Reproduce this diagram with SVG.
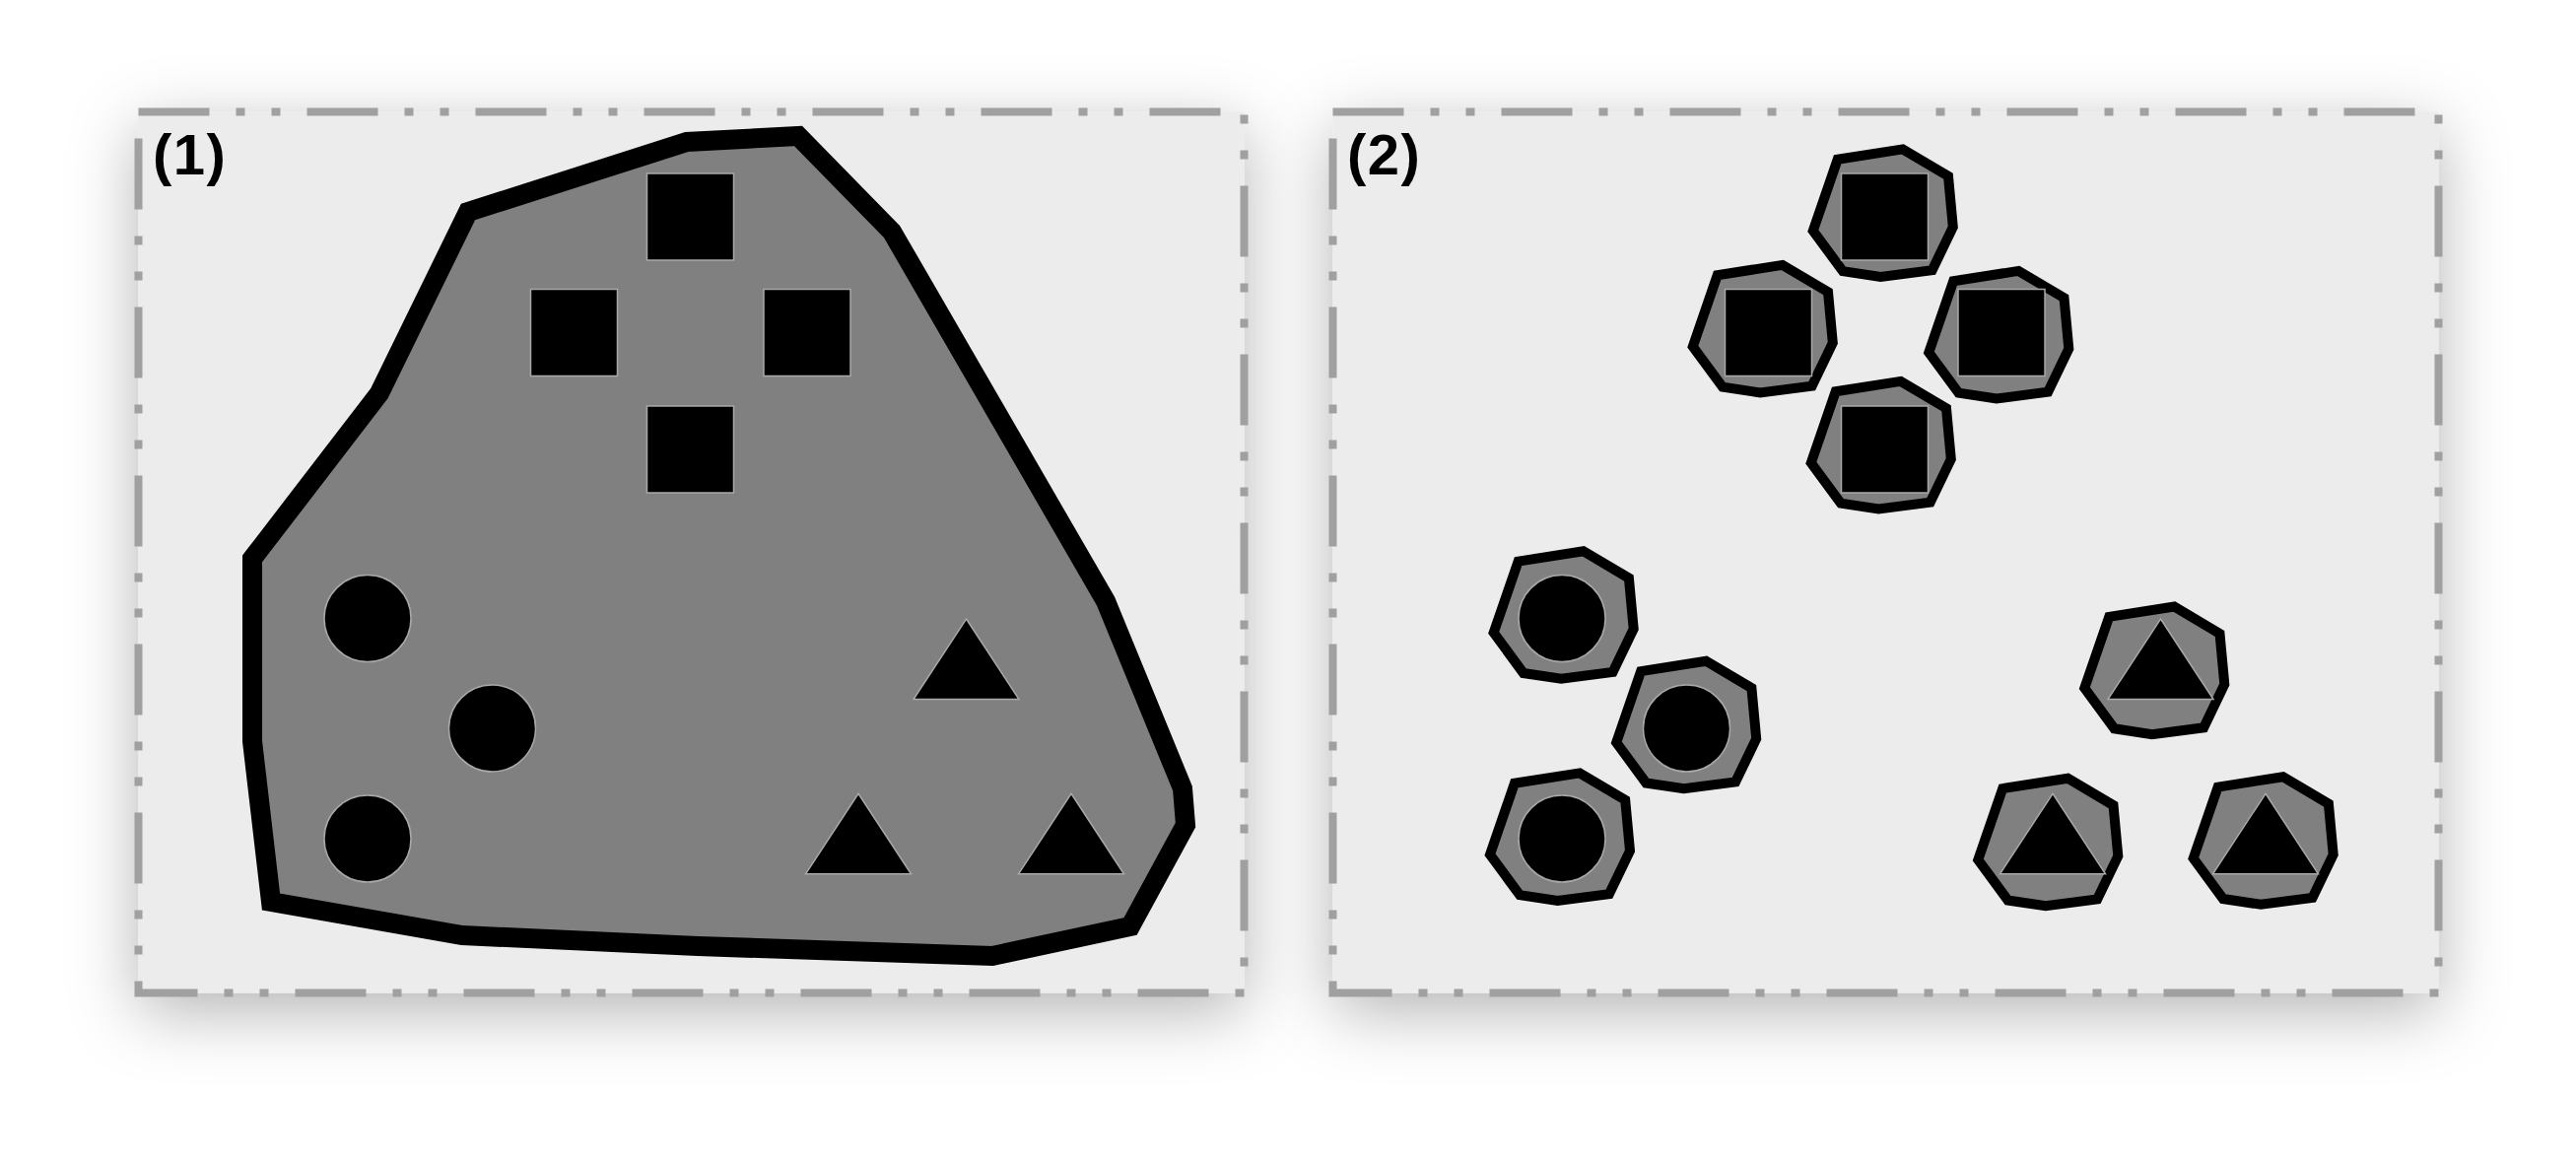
<svg xmlns="http://www.w3.org/2000/svg" xmlns:xlink="http://www.w3.org/1999/xlink" width="2614" height="1175" viewBox="0 0 2614 1175">
  <style>
    .panel { fill: #ececec; stroke: #a0a0a0; stroke-width: 8; stroke-dasharray: 72 27 9 27 9 27; }
    .label { font-family: "Liberation Sans", Arial, sans-serif; font-weight: bold; font-size: 58px; letter-spacing: 1.5px; fill: #000; }
    .hull { fill: #808080; stroke: #000; stroke-width: 20; stroke-linejoin: miter; stroke-miterlimit: 10; }
    .oct { fill: #808080; stroke: #000; stroke-width: 10; stroke-linejoin: miter; stroke-miterlimit: 10; }
    .item { fill: #000; stroke: #a8a8a8; stroke-width: 1.5; }
  </style>
  <defs>
    <filter id="shadow" x="-20%" y="-25%" width="140%" height="160%">
      <feDropShadow dx="0" dy="18" stdDeviation="34" flood-color="#000" flood-opacity="0.3"/>
    </filter>
    <rect id="sq" x="-44" y="-44" width="88" height="88"/>
    <circle id="ci" cx="0" cy="0" r="44"/>
    <path id="tri" d="M0,-40.75 L53.5,40.75 L-53.5,40.75 Z"/>
    <polygon id="octa" points="-46.1,-54.4 20,-64.8 66.2,-37.4 71,14.1 49.9,58 -2.5,64.8 -40.8,59 -71,17.9"/>
  </defs>
  <rect width="2614" height="1175" fill="#ffffff"/>

  <g id="panel-1">
    <rect x="140.5" y="113.5" width="1122" height="894" fill="#ececec" filter="url(#shadow)"/>
    <rect class="panel" x="140.5" y="113.5" width="1122" height="894"/>
    <text class="label" x="155" y="177">(1)</text>
  </g>
  <g id="panel-2">
    <rect x="1352.5" y="113.5" width="1122" height="894" fill="#ececec" filter="url(#shadow)"/>
    <rect class="panel" x="1352.5" y="113.5" width="1122" height="894"/>
    <text class="label" x="1367" y="177">(2)</text>
  </g>

  <g id="hull-1">
    <polygon class="hull" points="256,567 256,752 275,915 469,949 708,960 1007,970 1147,940 1203,837 1200,800 1122,610 905,235 810,138 697,144 475,215 385,399"/>
  </g>

  <g id="panel-1-items">
    <use id="p1-square-top" class="item" href="#sq" xlink:href="#sq" transform="translate(700.5,220)"/>
    <use id="p1-square-left" class="item" href="#sq" xlink:href="#sq" transform="translate(582.5,337.5)"/>
    <use id="p1-square-right" class="item" href="#sq" xlink:href="#sq" transform="translate(819,337.5)"/>
    <use id="p1-square-bottom" class="item" href="#sq" xlink:href="#sq" transform="translate(700.5,456)"/>
    <use id="p1-circle-1" class="item" href="#ci" xlink:href="#ci" transform="translate(373,627.5)"/>
    <use id="p1-circle-2" class="item" href="#ci" xlink:href="#ci" transform="translate(499.5,739)"/>
    <use id="p1-circle-3" class="item" href="#ci" xlink:href="#ci" transform="translate(373,851)"/>
    <use id="p1-triangle-top" class="item" href="#tri" xlink:href="#tri" transform="translate(980.5,668.75)"/>
    <use id="p1-triangle-left" class="item" href="#tri" xlink:href="#tri" transform="translate(871,846)"/>
    <use id="p1-triangle-right" class="item" href="#tri" xlink:href="#tri" transform="translate(1087,846)"/>
  </g>

  <g id="panel-2-items">
    <g id="p2-square-top">
      <use class="oct" href="#octa" xlink:href="#octa" transform="translate(1910.8,216.2)"/>
      <use class="item" href="#sq" xlink:href="#sq" transform="translate(1912.5,220)"/>
    </g>
    <g id="p2-square-left">
      <use class="oct" href="#octa" xlink:href="#octa" transform="translate(1788.8,333.7)"/>
      <use class="item" href="#sq" xlink:href="#sq" transform="translate(1794.5,337.5)"/>
    </g>
    <g id="p2-square-right">
      <use class="oct" href="#octa" xlink:href="#octa" transform="translate(2028.3,339.7)"/>
      <use class="item" href="#sq" xlink:href="#sq" transform="translate(2031,337.5)"/>
    </g>
    <g id="p2-square-bottom">
      <use class="oct" href="#octa" xlink:href="#octa" transform="translate(1908.8,451.7)"/>
      <use class="item" href="#sq" xlink:href="#sq" transform="translate(1912.5,456)"/>
    </g>
    <g id="p2-circle-1">
      <use class="oct" href="#octa" xlink:href="#octa" transform="translate(1586.7,624)"/>
      <use class="item" href="#ci" xlink:href="#ci" transform="translate(1585,627.5)"/>
    </g>
    <g id="p2-circle-2">
      <use class="oct" href="#octa" xlink:href="#octa" transform="translate(1711.2,735.5)"/>
      <use class="item" href="#ci" xlink:href="#ci" transform="translate(1711.5,739)"/>
    </g>
    <g id="p2-circle-3">
      <use class="oct" href="#octa" xlink:href="#octa" transform="translate(1583,849.2)"/>
      <use class="item" href="#ci" xlink:href="#ci" transform="translate(1585,851)"/>
    </g>
    <g id="p2-triangle-top">
      <use class="oct" href="#octa" xlink:href="#octa" transform="translate(2186.3,680.3)"/>
      <use class="item" href="#tri" xlink:href="#tri" transform="translate(2192.5,668.75)"/>
    </g>
    <g id="p2-triangle-left">
      <use class="oct" href="#octa" xlink:href="#octa" transform="translate(2078.3,854.5)"/>
      <use class="item" href="#tri" xlink:href="#tri" transform="translate(2083,846)"/>
    </g>
    <g id="p2-triangle-right">
      <use class="oct" href="#octa" xlink:href="#octa" transform="translate(2296.7,853)"/>
      <use class="item" href="#tri" xlink:href="#tri" transform="translate(2299,846)"/>
    </g>
  </g>
</svg>
